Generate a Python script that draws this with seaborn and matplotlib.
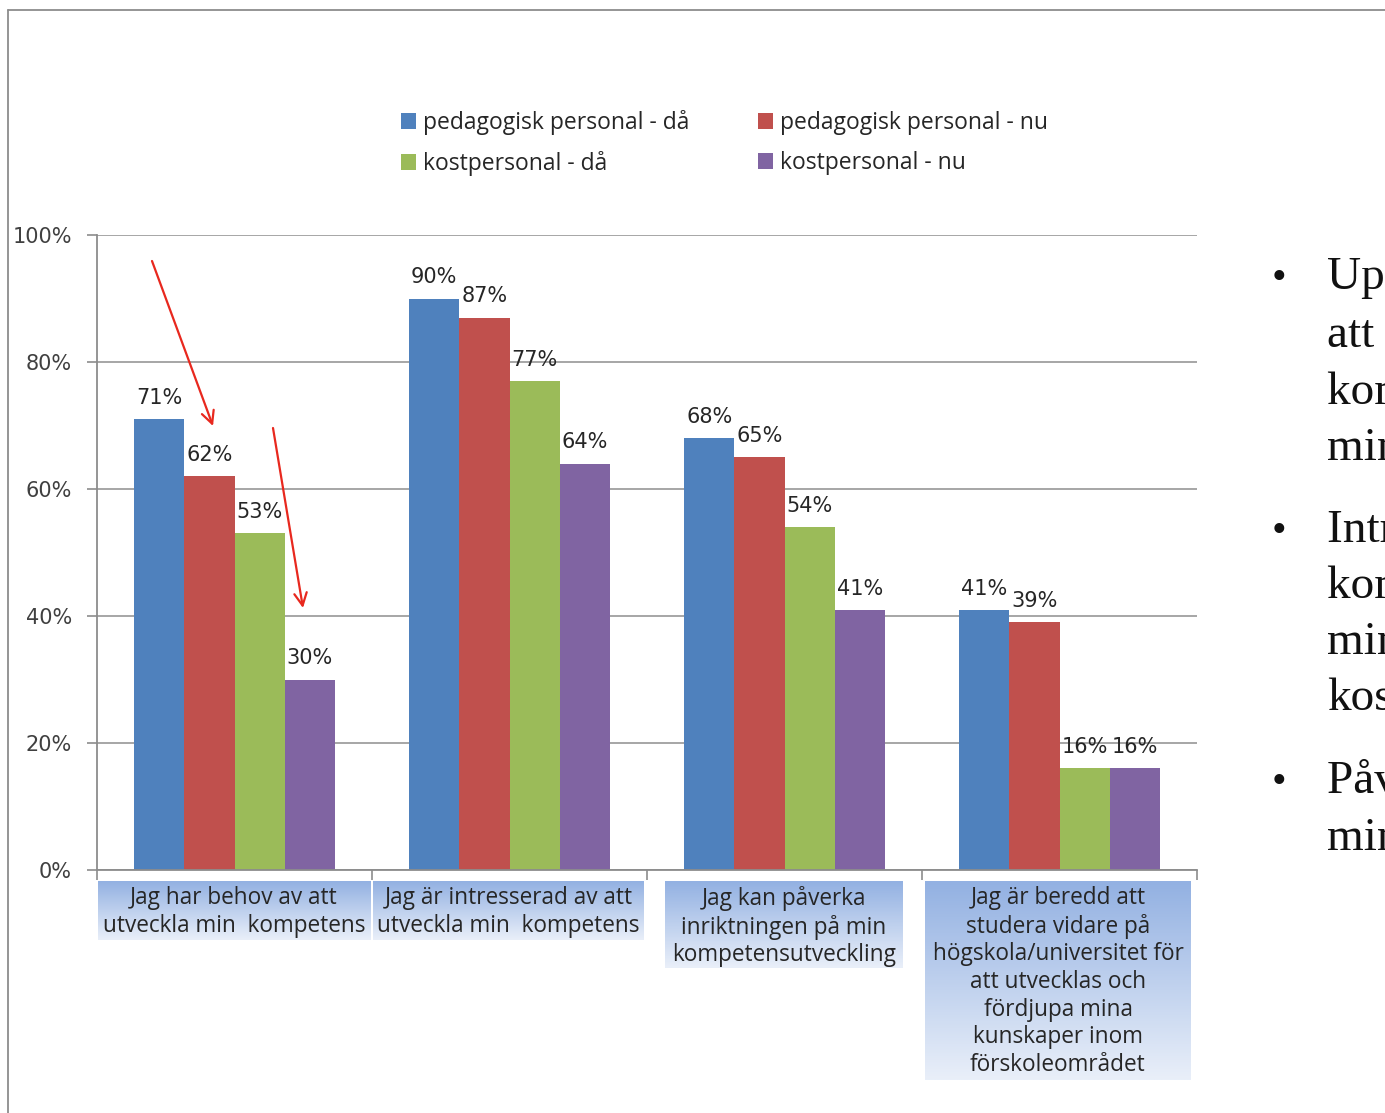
import numpy as np
import pandas as pd
import matplotlib
matplotlib.use("Agg")
import matplotlib.pyplot as plt
import seaborn as sns
from matplotlib.colors import LinearSegmentedColormap
from matplotlib.lines import Line2D

# --- data ---
categories = [
    "Jag har behov av att\nutveckla min  kompetens",
    "Jag är intresserad av att\nutveckla min  kompetens",
    "Jag kan påverka\ninriktningen på min\nkompetensutveckling",
    "Jag är beredd att\nstudera vidare på\nhögskola/universitet för\natt utvecklas och\nfördjupa mina\nkunskaper inom\nförskoleområdet",
]
series = ["pedagogisk personal - då", "pedagogisk personal - nu",
          "kostpersonal - då", "kostpersonal - nu"]
ped_da = [71, 90, 68, 41]
ped_nu = [62, 87, 65, 39]
kost_da = [53, 77, 54, 16]
kost_nu = [30, 64, 41, 16]
colors = ["#4F81BD", "#C0504D", "#9BBB59", "#8064A2"]
y_ticks = [0, 20, 40, 60, 80, 100]

bullets = [
    ["Upplevt behov av", "att utveckla sin", "kompetens har", "minskat"],
    ["Intresset för att utveckla", "kompetensen har", "minskat mest hos", "kostpersonal"],
    ["Påverkan har", "minskat"],
]

W, H = 1385, 1113

df = pd.DataFrame({
    "fraga": categories * 4,
    "grupp": [s for s in series for _ in categories],
    "andel": ped_da + ped_nu + kost_da + kost_nu,
})

sns.set_style("white")
plt.rcParams["font.family"] = ["DejaVu Sans"]

fig = plt.figure(figsize=(W / 100, H / 100), dpi=100)
ax = fig.add_axes([97 / W, 1 - 870 / H, 1100 / W, 635 / H])

sns.barplot(data=df, x="fraga", y="andel", hue="grupp", order=categories,
            hue_order=series, palette=colors, saturation=1, width=0.73,
            linewidth=0, ax=ax)

handles, labels = ax.get_legend_handles_labels()
ax.get_legend().remove()

for cont, vals in zip(ax.containers, [ped_da, ped_nu, kost_da, kost_nu]):
    ax.bar_label(cont, labels=[f"{v}%" for v in vals], padding=8,
                 fontsize=15, color="#262626")

ax.set_xlim(-0.5, 3.5)
ax.set_ylim(0, 100)
ax.set_yticks(y_ticks)
ax.set_yticklabels([f"{t}%" for t in y_ticks])
ax.set_xticks([])
ax.set_xticks([-0.5, 0.5, 1.5, 2.5, 3.5], minor=True)
ax.set_xlabel("")
ax.set_ylabel("")
ax.set_axisbelow(True)
ax.yaxis.grid(True, color="#a6a6a6", linewidth=1.4)
for s in ["top", "right"]:
    ax.spines[s].set_visible(False)
for s in ["left", "bottom"]:
    ax.spines[s].set_color("#8c8c8c")
    ax.spines[s].set_linewidth(1.3)
ax.tick_params(axis="y", length=7, width=1.2, color="#8c8c8c", pad=11,
               labelsize=15, labelcolor="#404040", left=True)
ax.tick_params(axis="x", which="minor", length=7, width=1.2, color="#8c8c8c",
               bottom=True, direction="out")

# legend, two columns
order = [0, 2, 1, 3]
fig.legend([handles[i] for i in order], [labels[i] for i in order],
           loc="upper left", bbox_to_anchor=(401 / W, 1 - 110 / H), ncol=2,
           frameon=False, borderpad=0, borderaxespad=0,
           handlelength=0.65, handleheight=0.65, handletextpad=0.3,
           labelspacing=0.7, columnspacing=3.0,
           prop={"family": "Open Sans", "size": 16.5}, labelcolor="#262626")

# category boxes with gradient
cmap = LinearSegmentedColormap.from_list("box", ["#93B1E2", "#E9EFF9"])
boxes = [(98, 881, 370, 940), (373, 881, 644, 940),
         (665, 881, 903, 968), (925, 881, 1191, 1080)]
for (x0, y0, x1, y1), txt in zip(boxes, categories):
    bax = fig.add_axes([x0 / W, 1 - y1 / H, (x1 - x0) / W, (y1 - y0) / H])
    bax.imshow(np.linspace(0, 1, 100).reshape(-1, 1), cmap=cmap,
               aspect="auto", extent=(0, 1, 0, 1))
    bax.set_axis_off()
    bax.text(0.5, 1 - 5 / (y1 - y0), txt, ha="center", va="top", fontsize=16.3,
             family="Open Sans", color="#262626", linespacing=1.2,
             transform=bax.transAxes)

# red arrows
for (xs, ys), (xe, ye) in [((152, 261), (213, 426)), ((273, 428), (303, 608))]:
    ax.annotate("", xy=(xe / W, 1 - ye / H), xytext=(xs / W, 1 - ys / H),
                xycoords="figure fraction", textcoords="figure fraction",
                arrowprops=dict(arrowstyle="->,head_length=0.9,head_width=0.45",
                                color="#E8281E", lw=1.6, shrinkA=0, shrinkB=0))

# slide frame
fig.add_artist(Line2D([8 / W, 8 / W], [0, 1 - 10 / H], color="#8c8c8c", lw=1.3))
fig.add_artist(Line2D([8 / W, 1], [1 - 10 / H, 1 - 10 / H], color="#8c8c8c", lw=1.3))

# bullet text on the right (cut at slide edge, as in the slide)
baselines = [[289, 347, 404, 460], [542, 598, 654, 710], [793, 850]]
for lines, ys in zip(bullets, baselines):
    fig.text(1279 / W, 1 - ys[0] / H, "•", ha="center", va="baseline",
             fontsize=30, family="Liberation Serif", color="#111111")
    for line, y in zip(lines, ys):
        fig.text(1327 / W, 1 - y / H, line, ha="left", va="baseline",
                 fontsize=34, family="Liberation Serif", color="#111111")

fig.savefig("out.png", dpi=100)
